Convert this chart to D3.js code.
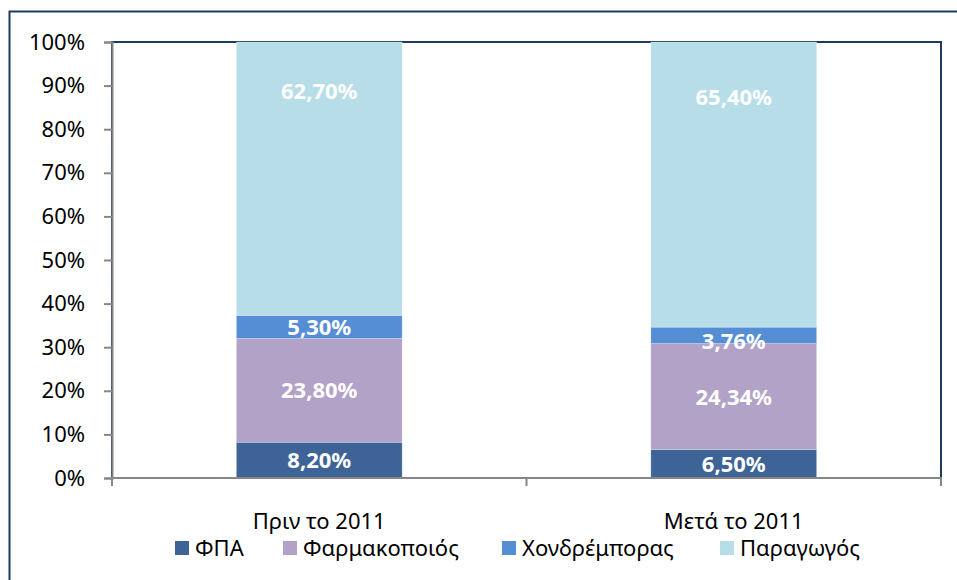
<!DOCTYPE html>
<html><head><meta charset="utf-8">
<script src="https://cdn.jsdelivr.net/npm/d3@7/dist/d3.min.js"></script>
<style>body{margin:0;background:#fff}svg{display:block}</style>
</head><body>
<script>
const categories = ["Πριν το 2011", "Μετά το 2011"];
const seriesNames = ["ΦΠΑ", "Φαρμακοποιός", "Χονδρέμπορας", "Παραγωγός"];
const fpa = [8.20, 6.50];
const farmakopoios = [23.80, 24.34];
const xondremporas = [5.30, 3.76];
const paragogos = [62.70, 65.40];
const yTicks = [0, 10, 20, 30, 40, 50, 60, 70, 80, 90, 100];
const colors = ["#3E6497", "#B3A2C7", "#558ED5", "#B7DEE8"];

const W = 957, H = 580;
const font = "'Noto Sans', 'DejaVu Sans', sans-serif";
const fs = 22;
const m = {left: 112, right: 941, top: 42, bottom: 478};

const svg = d3.select("body").append("svg").attr("width", W).attr("height", H);
svg.append("rect").attr("width", W).attr("height", H).attr("fill", "#fff");
// outer chart border
svg.append("rect").attr("x", 9.5).attr("y", 11.5).attr("width", 1000).attr("height", 700)
  .attr("fill", "none").attr("stroke", "#1F3A60").attr("stroke-width", 2);

const rows = categories.map((c, i) => ({
  cat: c,
  "ΦΠΑ": fpa[i], "Φαρμακοποιός": farmakopoios[i], "Χονδρέμπορας": xondremporas[i], "Παραγωγός": paragogos[i]
}));
const stack = d3.stack().keys(seriesNames)(rows);

const x = d3.scaleBand().domain(categories).range([m.left, m.right]).paddingInner(0.6).paddingOuter(0.3);
const y = d3.scaleLinear().domain([0, 100]).range([m.bottom, m.top]);

// plot area border (top/right)
svg.append("rect").attr("x", m.left).attr("y", m.top).attr("width", m.right - m.left).attr("height", m.bottom - m.top)
  .attr("fill", "none").attr("stroke", "#1F3A60").attr("stroke-width", 2);

// label anchor value used for the topmost segment (label sits higher, as in the source)
const topLabelRef = 140;
function labelY(d, si) {
  if (si === seriesNames.length - 1) return y((d[0] + topLabelRef) / 2);
  const c = (y(d[0]) + y(d[1])) / 2;
  const h = y(d[0]) - y(d[1]);
  return h < 20 ? c + 6 : c;
}

// bars
const g = svg.append("g");
stack.forEach((s, si) => {
  g.selectAll(null).data(s).enter().append("rect")
    .attr("x", d => x(d.data.cat))
    .attr("width", x.bandwidth())
    .attr("y", d => y(d[1]))
    .attr("height", d => y(d[0]) - y(d[1]))
    .attr("fill", colors[si])
    .attr("stroke", "rgba(255,255,255,0.35)").attr("stroke-width", 0.7);
});
stack.forEach((s, si) => {
  g.selectAll(null).data(s).enter().append("text")
    .attr("x", d => x(d.data.cat) + x.bandwidth() / 2)
    .attr("y", d => labelY(d, si))
    .attr("dy", "0.36em")
    .attr("text-anchor", "middle")
    .attr("fill", "#fff").attr("font-weight", "bold")
    .attr("font-family", font).attr("font-size", fs)
    .text(d => (d[1] - d[0]).toFixed(2).replace(".", ",") + "%");
});

// y axis
const yAxis = d3.axisLeft(y).tickValues(yTicks).tickFormat(d => d + "%").tickSize(8).tickPadding(19);
const ya = svg.append("g").attr("transform", `translate(${m.left},0)`).call(yAxis);
ya.select(".domain").attr("stroke", "#868686").attr("stroke-width", 2);
ya.selectAll(".tick line").attr("stroke", "#868686").attr("stroke-width", 2);
ya.selectAll(".tick text").attr("font-family", font).attr("font-size", fs).attr("fill", "#000");

// x axis: boundary ticks
const xa = svg.append("g").attr("transform", `translate(0,${m.bottom})`);
xa.append("line").attr("x1", m.left - 1).attr("x2", m.right + 1).attr("stroke", "#868686").attr("stroke-width", 2);
const bounds = [m.left, (m.left + m.right) / 2, m.right];
xa.selectAll(null).data(bounds).enter().append("line")
  .attr("x1", d => d).attr("x2", d => d).attr("y1", 0).attr("y2", 8)
  .attr("stroke", "#868686").attr("stroke-width", 2);
xa.selectAll(null).data(categories).enter().append("text")
  .attr("x", d => x(d) + x.bandwidth() / 2).attr("y", 51)
  .attr("text-anchor", "middle").attr("font-family", font).attr("font-size", fs).attr("fill", "#000")
  .text(d => d);

// legend
const legendX = [175, 283, 502, 720];
const lg = svg.append("g");
seriesNames.forEach((n, i) => {
  lg.append("rect").attr("x", legendX[i]).attr("y", 541).attr("width", 14).attr("height", 14).attr("fill", colors[i]);
  lg.append("text").attr("x", legendX[i] + 20).attr("y", 556)
    .attr("font-family", font).attr("font-size", fs).attr("fill", "#000").text(n);
});
</script>
</body></html>
